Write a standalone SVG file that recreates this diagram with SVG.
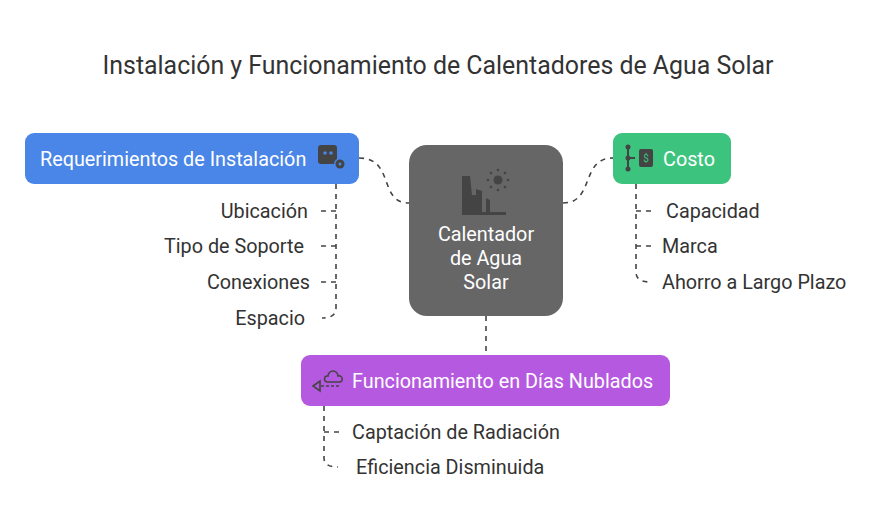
<svg xmlns="http://www.w3.org/2000/svg" width="876" height="528" viewBox="0 0 876 528">
<style>
text{font-family:Roboto,"Liberation Sans",sans-serif}
.t{font-size:24.9px;fill:#333}
.h{font-size:19.8px;fill:#fff}
.l{font-size:19.8px;fill:#333}
.c{fill:none;stroke:#444;stroke-width:1.6;stroke-dasharray:5 5}
.ic{fill:#444}
</style>
<rect width="876" height="528" fill="#fff"/>
<text class="t" x="438" y="74" text-anchor="middle">Instalación y Funcionamiento de Calentadores de Agua Solar</text>
<g id="connectors">
<path class="c" d="M359,158 C395,158 378,203 409,203"/>
<path class="c" d="M563,203 C595,203 580,158 613,158"/>
<path class="c" d="M486,316 V355"/>
<path class="c" d="M336,184 V308 Q336,318 322,318"/>
<path class="c" d="M336,211 H318 M336,246 H318 M336,282 H318"/>
<path class="c" d="M636,184 V272 Q636,282 650,282"/>
<path class="c" d="M636,211 H655 M636,246 H655"/>
<path class="c" d="M324,406 V458 Q324,467 338,467"/>
<path class="c" d="M324,432 H343"/>
</g>
<g id="req">
<rect x="25" y="133" width="334" height="51" rx="9" fill="#4a86e8"/>
<text class="h" x="40" y="166">Requerimientos de Instalación</text>
<rect class="ic" x="318" y="145" width="19" height="19" rx="3"/>
<circle cx="325" cy="153" r="1.8" fill="#4a86e8"/><circle cx="331" cy="153" r="1.8" fill="#4a86e8"/>
<circle cx="340" cy="164" r="6" fill="#4a86e8"/><circle cx="340" cy="164" r="4.5" class="ic"/><circle cx="340" cy="164" r="1.5" fill="#4a86e8"/>
</g>
<g id="center">
<rect x="409" y="145" width="154" height="171" rx="18" fill="#666"/>
<path class="ic" d="M462,176 H470 L472,195 H476 V189 L482,191 V212 H486 V198 L490,200 V212 H506 V215 H462 Z"/>
<circle cx="498" cy="180" r="4.5" class="ic"/>
<g class="ic"><circle cx="498" cy="170" r="1.3"/><circle cx="498" cy="190" r="1.3"/><circle cx="488" cy="180" r="1.3"/><circle cx="508" cy="180" r="1.3"/><circle cx="491" cy="173" r="1.3"/><circle cx="505" cy="173" r="1.3"/><circle cx="491" cy="187" r="1.3"/><circle cx="505" cy="187" r="1.3"/></g>
<text class="h" x="486" y="241" text-anchor="middle">Calentador</text>
<text class="h" x="486" y="265" text-anchor="middle">de Agua</text>
<text class="h" x="486" y="289" text-anchor="middle">Solar</text>
</g>
<g id="costo">
<rect x="613" y="133" width="118" height="51" rx="9" fill="#3cc47e"/>
<g class="ic"><circle cx="628" cy="147" r="2.5"/><circle cx="628" cy="158" r="2.5"/><circle cx="628" cy="169" r="2.5"/><rect x="627" y="147" width="2" height="22"/><rect x="628" y="157" width="7" height="2"/><rect x="639" y="149" width="14" height="18" rx="2"/></g>
<text x="646" y="162" font-size="10" fill="#3cc47e" text-anchor="middle" font-family="Liberation Sans,sans-serif">$</text>
<text class="h" x="663" y="166">Costo</text>
</g>
<g id="nubes">
<rect x="301" y="355" width="369" height="51" rx="9" fill="#b55ae0"/>
<path d="M328,376 a5,5 0 0 1 10,0 a3,3 0 0 1 2,6 h-13 a3,3 0 0 1 1,-6z" fill="none" stroke="#444" stroke-width="1.5"/>
<path d="M313,386 l7,-5 v10 z" fill="none" stroke="#444" stroke-width="1.6"/>
<path d="M321,386 h19" stroke="#444" stroke-width="1.6" stroke-dasharray="3 2"/>
<text class="h" x="352" y="388">Funcionamiento en Días Nublados</text>
</g>
<g id="items">
<text class="l" x="308" y="218" text-anchor="end">Ubicación</text>
<text class="l" x="304" y="253" text-anchor="end">Tipo de Soporte</text>
<text class="l" x="310" y="289" text-anchor="end">Conexiones</text>
<text class="l" x="305" y="325" text-anchor="end">Espacio</text>
<text class="l" x="666" y="218">Capacidad</text>
<text class="l" x="662" y="253">Marca</text>
<text class="l" x="662" y="289">Ahorro a Largo Plazo</text>
<text class="l" x="352" y="439">Captación de Radiación</text>
<text class="l" x="356" y="474">Eficiencia Disminuida</text>
</g>
</svg>
